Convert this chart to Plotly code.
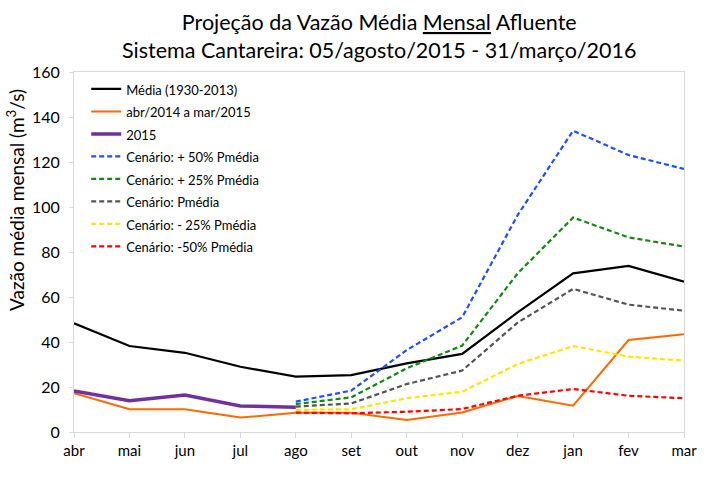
import plotly.graph_objects as go

months = ["abr", "mai", "jun", "jul", "ago", "set", "out", "nov", "dez", "jan", "fev", "mar"]

media_1930_2013 = [48.3, 38.2, 35.2, 29.0, 24.6, 25.3, 30.5, 34.7, 53.2, 70.5, 73.8, 66.8]
abr2014_mar2015 = [17.2, 10.1, 10.1, 6.4, 8.6, 8.6, 5.3, 8.7, 16.0, 11.7, 40.9, 43.4]
ano_2015 = [18.2, 13.9, 16.4, 11.6, 11.0]

cen_months = ["ago", "set", "out", "nov", "dez", "jan", "fev", "mar"]
cen_mais50 = [13.5, 18.4, 36.4, 51.0, 96.4, 133.9, 123.1, 116.9]
cen_mais25 = [12.4, 15.4, 28.3, 38.4, 70.5, 95.3, 86.5, 82.4]
cen_pmedia = [11.3, 12.7, 21.3, 27.3, 48.6, 63.6, 56.6, 53.9]
cen_menos25 = [9.8, 10.1, 15.0, 17.9, 30.2, 38.2, 33.5, 31.7]
cen_menos50 = [8.6, 8.3, 9.0, 10.2, 16.1, 19.1, 16.1, 15.0]

idx = {m: i for i, m in enumerate(months)}
x_all = [idx[m] for m in months]
x_2015 = x_all[:len(ano_2015)]
x_cen = [idx[m] for m in cen_months]

FONT = "Lato, 'Open Sans', sans-serif"
DASH = "5px,3px"


def leg(t):
    return "<span style='font-size:13px'>" + t + "</span>"


fig = go.Figure()
fig.add_trace(go.Scatter(x=x_all, y=media_1930_2013, mode="lines", name=leg("Média (1930-2013)"),
                         line=dict(color="#000000", width=2.2)))
fig.add_trace(go.Scatter(x=x_all, y=abr2014_mar2015, mode="lines", name=leg("abr/2014 a mar/2015"),
                         line=dict(color="#FF6A00", width=2)))
fig.add_trace(go.Scatter(x=x_2015, y=ano_2015, mode="lines", name=leg("2015"),
                         line=dict(color="#7030A0", width=3.5)))
scen = [
    ("Cenário: + 50% Pmédia", cen_mais50, "#1F4FFF"),
    ("Cenário: + 25% Pmédia", cen_mais25, "#118A11"),
    ("Cenário: Pmédia", cen_pmedia, "#555555"),
    ("Cenário: - 25% Pmédia", cen_menos25, "#FFE600"),
    ("Cenário: -50% Pmédia", cen_menos50, "#FF0000"),
]
for name, vals, col in scen:
    fig.add_trace(go.Scatter(x=x_cen, y=vals, mode="lines", name=leg(name),
                             line=dict(color=col, width=2.2, dash=DASH)))

fig.update_layout(
    width=709, height=482,
    margin=dict(l=74, r=23, t=72, b=50),
    paper_bgcolor="white", plot_bgcolor="white",
    font=dict(family=FONT, color="#000000"),
    showlegend=True,
    legend=dict(x=0.02, y=0.998, xanchor="left", yanchor="top", bgcolor="rgba(0,0,0,0)",
                font=dict(size=15, family=FONT, color="#000000"), tracegroupgap=0),
    xaxis=dict(range=[0, 11], tickmode="array", tickvals=x_all, ticktext=months,
               showgrid=False, zeroline=False, showline=True, linecolor="#D9D9D9", linewidth=1,
               mirror=True, ticks="outside", ticklen=5, tickcolor="#D9D9D9",
               tickfont=dict(size=15, family=FONT, color="#000000")),
    yaxis=dict(range=[0, 160], tickmode="array", tickvals=list(range(0, 161, 20)),
               showgrid=False, zeroline=False, showline=True, linecolor="#D9D9D9", linewidth=1,
               mirror=True, ticks="outside", ticklen=4, tickcolor="#D9D9D9",
               ticklabelstandoff=6,
               tickfont=dict(size=16, family=FONT, color="#000000")),
    annotations=[
        dict(text="Projeção da Vazão Média <u>Mensal</u> Afluente<br>Sistema Cantareira: 05/agosto/2015 - 31/março/2016",
             xref="paper", yref="paper", x=0.5, y=1.1, xanchor="center", yanchor="middle",
             showarrow=False, font=dict(size=21.5, family=FONT, color="#000000")),
        dict(text="Vazão média mensal (m<sup>3</sup>/s)", textangle=-90,
             xref="paper", yref="paper", x=-0.097, y=0.644, xanchor="center", yanchor="middle",
             showarrow=False, font=dict(size=19, family=FONT, color="#000000")),
    ],
)

fig.write_html("out.html", config={"displayModeBar": False},
               post_script="document.body.style.margin='0';document.body.style.padding='0';")
